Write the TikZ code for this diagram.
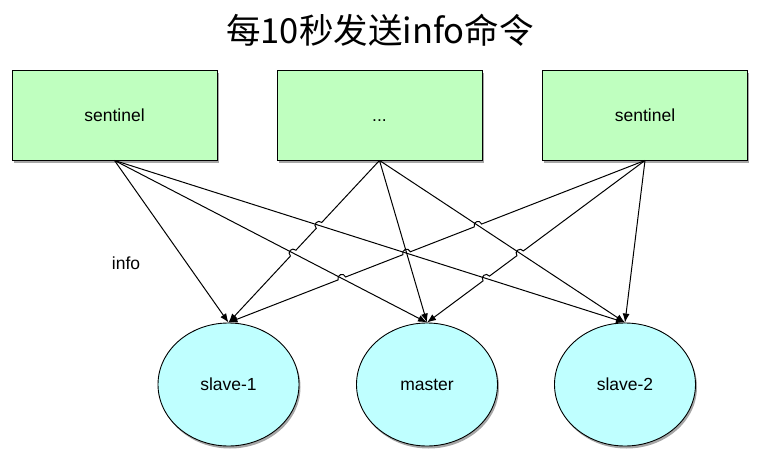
\documentclass[tikz,border=0pt]{standalone}
\usepackage{fontspec}
\setmainfont{Liberation Sans}
\newfontfamily\cjk{Noto Sans CJK SC}
\usetikzlibrary{arrows.meta,shapes.geometric,shadows,calc,intersections}
\definecolor{boxgreen}{RGB}{191,255,191}
\definecolor{ellcyan}{RGB}{191,255,255}
\tikzset{
  box/.style={draw=black,line width=0.9pt,fill=boxgreen,minimum width=205pt,minimum height=90pt,inner sep=0pt,
    font=\fontsize{17.5}{20}\selectfont,text height=12.6pt,text depth=0pt,
    drop shadow={shadow xshift=1.5pt,shadow yshift=-2.5pt,opacity=0.35,fill=black}},
  ell/.style={ellipse,draw=black,line width=0.9pt,fill=ellcyan,minimum width=141pt,minimum height=123pt,inner sep=0pt,
    font=\fontsize{17.5}{20}\selectfont,
    drop shadow={shadow xshift=1.5pt,shadow yshift=-2.5pt,opacity=0.35,fill=black}},
  conn/.style={draw=black,line width=1pt,-{Latex[length=9pt,width=7pt]}},
  jump/.style={bend right=90,looseness=1.7}
}
\begin{document}
\begin{tikzpicture}[x=1pt,y=-1pt]
\useasboundingbox (0,0) rectangle (766,471);
\node[font=\cjk\fontsize{34.5}{40}\selectfont] (title) at (380,30) {每10秒发送info命令};
\node[box] (s1) at (114.5,115) {sentinel};
\node[box] (s2) at (379.5,115) {...};
\node[box] (s3) at (645,115) {sentinel};
\node[ell] (m1) at (228.5,384.5) {slave-1};
\node[ell] (m2) at (427,384.5) {master};
\node[ell] (m3) at (625,384.5) {slave-2};
\node[font=\fontsize{17.5}{20}\selectfont] (info) at (126,263) {info};
% straight connectors
\draw[conn] (s1.south) -- (m1.north);
\draw[conn,name path=p12] (s1.south) -- (m2.north);
\draw[conn,name path=p13] (s1.south) -- (m3.north);
\draw[conn,name path=p22] (s2.south) -- (m2.north);
\draw[conn,name path=p23] (s2.south) -- (m3.north);
\draw[conn] (s3.south) -- (m3.north);
% jumping connectors
\path[name path=p21] (s2.south) -- (m1.north);
\path[name path=p31] (s3.south) -- (m1.north);
\path[name path=p32] (s3.south) -- (m2.north);
\path[name intersections={of=p21 and p13,by=a1}];
\path[name intersections={of=p21 and p12,by=a2}];
\path[name intersections={of=p31 and p23,by=b1}];
\path[name intersections={of=p31 and p13,by=b2}];
\path[name intersections={of=p31 and p12,by=b3}];
\path[name intersections={of=p32 and p23,by=c1}];
\path[name intersections={of=p32 and p13,by=c2}];
\draw[conn] (s2.south) -- ($(a1)!4pt!(s2.south)$) to[jump] ($(a1)!4pt!(m1.north)$)
  -- ($(a2)!4pt!(s2.south)$) to[jump] ($(a2)!4pt!(m1.north)$) -- (m1.north);
\draw[conn] (s3.south) -- ($(b1)!4pt!(s3.south)$) to[jump] ($(b1)!4pt!(m1.north)$)
  -- ($(b2)!4pt!(s3.south)$) to[jump] ($(b2)!4pt!(m1.north)$)
  -- ($(b3)!4pt!(s3.south)$) to[jump] ($(b3)!4pt!(m1.north)$) -- (m1.north);
\draw[conn] (s3.south) -- ($(c1)!4pt!(s3.south)$) to[jump] ($(c1)!4pt!(m2.north)$)
  -- ($(c2)!4pt!(s3.south)$) to[jump] ($(c2)!4pt!(m2.north)$) -- (m2.north);
\end{tikzpicture}
\end{document}
